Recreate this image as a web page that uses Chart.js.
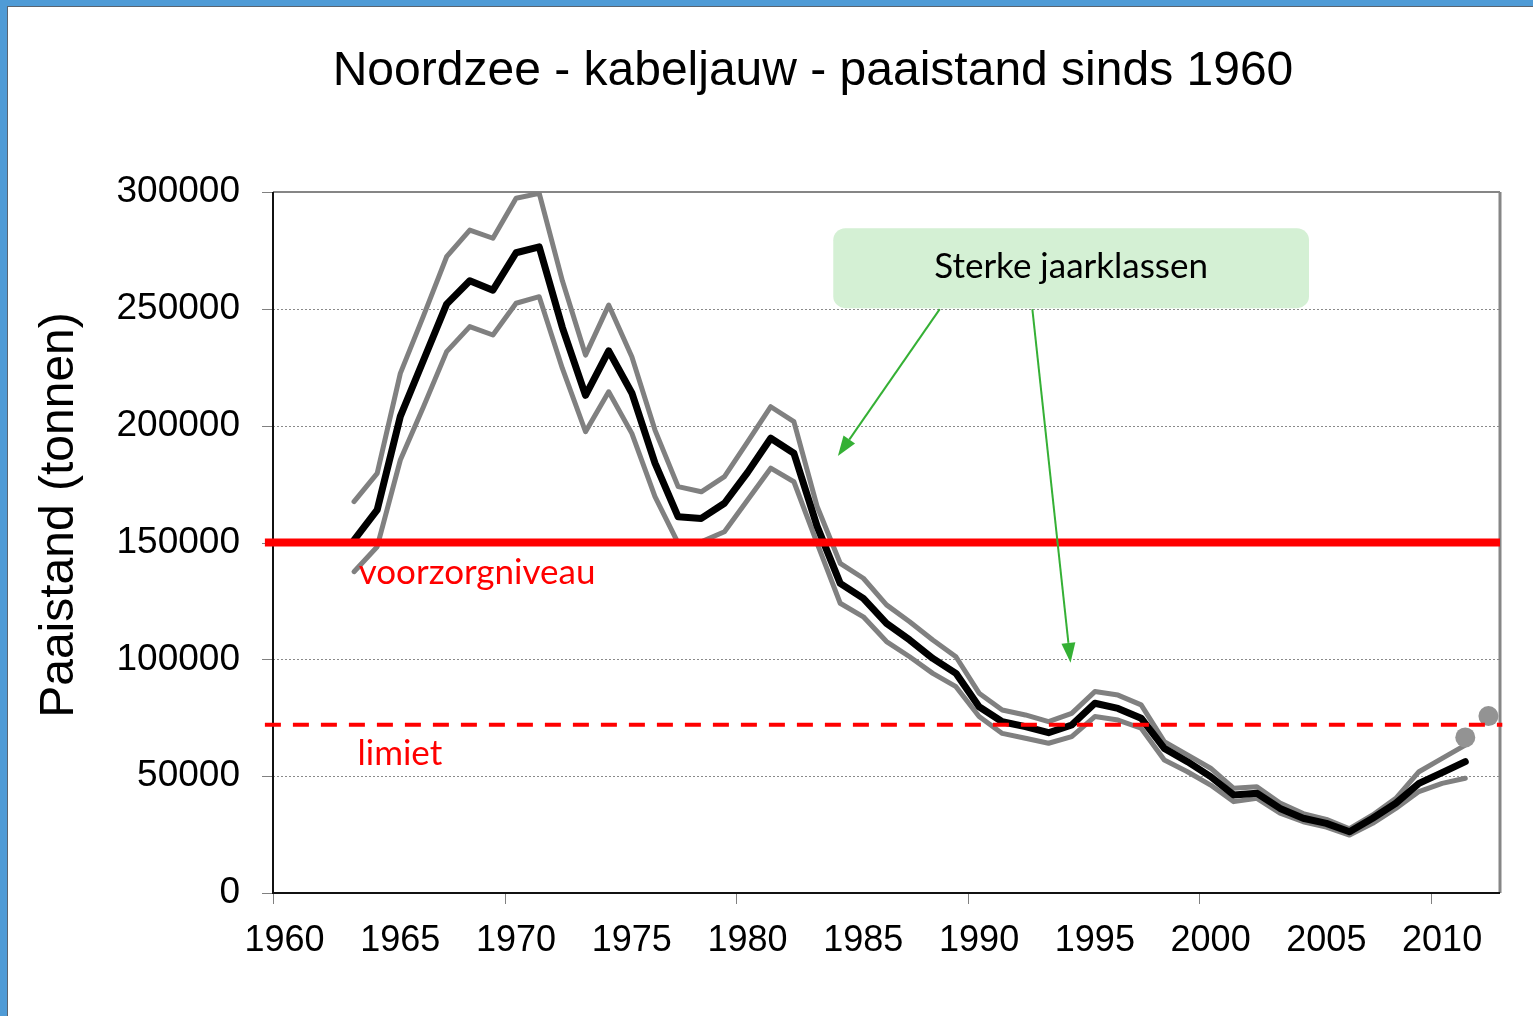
<!DOCTYPE html>
<html>
<head>
<meta charset="utf-8">
<title>Noordzee kabeljauw paaistand</title>
<script src="https://cdn.jsdelivr.net/npm/chart.js@4.4.0/dist/chart.umd.min.js"></script>
<style>
  html, body { margin: 0; padding: 0; background: #fff; }
  canvas { display: block; }
</style>
</head>
<body>
<canvas id="chart" width="1533" height="1016"></canvas>
<script>
// Paaistand kabeljauw Noordzee (tonnen), 1963-2011
const years = [1963, 1964, 1965, 1966, 1967, 1968, 1969, 1970, 1971, 1972,
               1973, 1974, 1975, 1976, 1977, 1978, 1979, 1980, 1981, 1982,
               1983, 1984, 1985, 1986, 1987, 1988, 1989, 1990, 1991, 1992,
               1993, 1994, 1995, 1996, 1997, 1998, 1999, 2000, 2001, 2002,
               2003, 2004, 2005, 2006, 2007, 2008, 2009, 2010, 2011];
const ssb = [151000, 164000, 204000, 228000, 252000, 262000, 258000, 274000, 276500, 242000,
             213000, 232000, 214000, 184000, 161000, 160300, 166800, 180000, 194600, 188200,
             157000, 132500, 126100, 115400, 108300, 100400, 94000, 79700, 73300, 71200,
             68600, 71900, 81200, 79000, 74800, 61900, 56200, 49800, 41900, 42700,
             36200, 32000, 29800, 26200, 32000, 38400, 46900, 51500, 56200];
const ssbHigh = [167500, 179600, 222400, 247000, 272300, 283700, 280200, 297300, 299400, 262000,
                 230200, 251600, 229500, 198100, 173900, 171700, 178200, 193100, 208100, 201700,
                 165500, 141100, 134700, 123300, 116100, 108300, 101100, 85500, 78300, 76200,
                 73300, 76900, 86200, 84700, 80500, 64800, 59100, 53400, 44800, 45500,
                 38500, 34000, 31500, 27500, 33400, 40500, 51900, 57600, 63300];
const ssbLow = [137500, 148200, 185300, 208100, 231700, 242400, 238800, 252400, 255200, 224500,
                197400, 214500, 196700, 169600, 149700, 150300, 154600, 168200, 181800, 176000,
                149700, 124000, 118200, 107600, 101100, 94000, 88300, 75500, 68300, 66200,
                64100, 66900, 75500, 74000, 70500, 56900, 51900, 46200, 39100, 40500,
                34200, 30500, 28200, 24800, 29800, 36200, 43400, 46900, 49100];

// losse punten aan het eind
const prognoseYears = [2011, 2012];
const prognose = [66600, 75700];

// referentieniveaus
const bpa = 150000;   // voorzorgniveau
const blim = 72000;   // limiet

const xTicks = [1960, 1965, 1970, 1975, 1980, 1985, 1990, 1995, 2000, 2005, 2010];
const yTicks = [0, 50000, 100000, 150000, 200000, 250000, 300000];

const toXY = (xs, ys) => xs.map((x, i) => ({ x: x, y: ys[i] }));
const LINE_FONT = '"Liberation Sans", Arial, sans-serif';
const NOTE_FONT = 'Lato, "Open Sans", sans-serif';

// achtergrond, raster, assen en teksten
const decor = {
  id: 'decor',
  beforeDraw(chart) {
    const ctx = chart.ctx;
    ctx.save();
    ctx.fillStyle = '#fff';
    ctx.fillRect(0, 0, chart.width, chart.height);
    ctx.fillStyle = '#4f9bd6';
    ctx.fillRect(0, 0, chart.width, 6);
    ctx.fillRect(0, 0, 8, chart.height);
    ctx.fillStyle = '#5a6470';
    ctx.fillRect(8, 6, chart.width - 8, 1);
    ctx.fillRect(7, 6, 1, chart.height);
    ctx.restore();
  },
  beforeDatasetsDraw(chart) {
    const { ctx, chartArea: a, scales: { x, y } } = chart;
    ctx.save();
    // stippellijnen
    ctx.strokeStyle = '#8a8a8a';
    ctx.lineWidth = 1;
    ctx.setLineDash([2, 2]);
    yTicks.slice(1, -1).forEach(v => {
      const py = Math.round(y.getPixelForValue(v)) + 0.5;
      ctx.beginPath();
      ctx.moveTo(a.left, py);
      ctx.lineTo(a.right, py);
      ctx.stroke();
    });
    ctx.setLineDash([]);
    // kader
    ctx.strokeStyle = '#868686';
    ctx.lineWidth = 2;
    ctx.beginPath();
    ctx.moveTo(a.left, a.top);
    ctx.lineTo(a.right, a.top);
    ctx.stroke();
    ctx.lineWidth = 3;
    ctx.beginPath();
    ctx.moveTo(a.right, a.top);
    ctx.lineTo(a.right, a.bottom);
    ctx.stroke();
    // streepjes
    ctx.lineWidth = 1;
    ctx.strokeStyle = '#808080';
    yTicks.forEach(v => {
      const py = Math.round(y.getPixelForValue(v)) + 0.5;
      ctx.beginPath();
      ctx.moveTo(a.left - 11, py);
      ctx.lineTo(a.left, py);
      ctx.stroke();
    });
    for (let yr = 1959.5; yr < 2012; yr += 10) {
      const px = Math.round(x.getPixelForValue(yr)) + 0.5;
      ctx.beginPath();
      ctx.moveTo(px, a.bottom);
      ctx.lineTo(px, a.bottom + 11);
      ctx.stroke();
    }
    // assen
    ctx.strokeStyle = '#111';
    ctx.lineWidth = 2;
    ctx.beginPath();
    ctx.moveTo(a.left, a.top);
    ctx.lineTo(a.left, a.bottom);
    ctx.lineTo(a.right, a.bottom);
    ctx.stroke();
    ctx.restore();
  },
  afterDraw(chart) {
    const { ctx, scales: { x, y } } = chart;
    ctx.save();
    ctx.fillStyle = '#000';
    ctx.textAlign = 'center';
    ctx.textBaseline = 'middle';
    ctx.font = '48px ' + LINE_FONT;
    ctx.fillText('Noordzee - kabeljauw - paaistand sinds 1960', 813, 72);

    ctx.save();
    ctx.translate(60, 515);
    ctx.rotate(-Math.PI / 2);
    ctx.font = '48px ' + LINE_FONT;
    ctx.fillText('Paaistand (tonnen)', 0, 0);
    ctx.restore();

    // labels bij de referentielijnen
    ctx.fillStyle = '#ff0000';
    ctx.textAlign = 'left';
    ctx.font = '35px ' + NOTE_FONT;
    ctx.fillText('voorzorgniveau', x.getPixelForValue(1963.2), y.getPixelForValue(bpa) + 30);
    ctx.fillText('limiet', x.getPixelForValue(1963.15), y.getPixelForValue(blim) + 29);

    // tekstvak met pijlen
    const bx0 = x.getPixelForValue(1983.7), bx1 = x.getPixelForValue(2004.25);
    const by0 = y.getPixelForValue(284500), by1 = y.getPixelForValue(250300);
    ctx.fillStyle = '#d4f0d4';
    ctx.beginPath();
    ctx.roundRect(bx0, by0, bx1 - bx0, by1 - by0, 12);
    ctx.fill();
    ctx.fillStyle = '#000';
    ctx.textAlign = 'center';
    ctx.font = '35px ' + NOTE_FONT;
    ctx.fillText('Sterke jaarklassen', (bx0 + bx1) / 2, (by0 + by1) / 2 - 1);

    const arrow = (x0, y0, x1, y1) => {
      const ang = Math.atan2(y1 - y0, x1 - x0);
      const len = 20, half = 7;
      const bxp = x1 - len * Math.cos(ang), byp = y1 - len * Math.sin(ang);
      ctx.strokeStyle = '#35b035';
      ctx.fillStyle = '#35b035';
      ctx.lineWidth = 2;
      ctx.beginPath();
      ctx.moveTo(x0, y0);
      ctx.lineTo(bxp, byp);
      ctx.stroke();
      ctx.beginPath();
      ctx.moveTo(x1, y1);
      ctx.lineTo(bxp + half * Math.sin(ang), byp - half * Math.cos(ang));
      ctx.lineTo(bxp - half * Math.sin(ang), byp + half * Math.cos(ang));
      ctx.closePath();
      ctx.fill();
    };
    arrow(x.getPixelForValue(1988.3), by1 + 1, x.getPixelForValue(1983.9), y.getPixelForValue(187000));
    arrow(x.getPixelForValue(1992.3), by1 + 1, x.getPixelForValue(1993.95), y.getPixelForValue(98500));
    ctx.restore();
  }
};

const lineStyle = {
  pointRadius: 0,
  tension: 0,
  fill: false,
  borderCapStyle: 'round',
  borderJoinStyle: 'round'
};

new Chart(document.getElementById('chart').getContext('2d'), {
  type: 'line',
  data: {
    datasets: [
      { ...lineStyle, label: 'bovengrens', data: toXY(years, ssbHigh), borderColor: '#808080', borderWidth: 5, order: 4 },
      { ...lineStyle, label: 'ondergrens', data: toXY(years, ssbLow), borderColor: '#808080', borderWidth: 5, order: 4 },
      { ...lineStyle, label: 'paaistand', data: toXY(years, ssb), borderColor: '#000', borderWidth: 7, order: 3 },
      { label: 'prognose', data: toXY(prognoseYears, prognose), showLine: false,
        pointRadius: 10, pointBackgroundColor: '#939393', pointBorderWidth: 0, order: 2 },
      { ...lineStyle, label: 'voorzorgniveau', data: [{ x: 1959.15, y: bpa }, { x: 2012.5, y: bpa }],
        borderColor: '#ff0000', borderWidth: 8, borderCapStyle: 'butt', clip: false, order: 1 },
      { ...lineStyle, label: 'limiet', data: [{ x: 1959.15, y: blim }, { x: 2012.6, y: blim }],
        borderColor: '#ff0000', borderWidth: 4, borderDash: [16, 12], borderCapStyle: 'butt', clip: false, order: 1 }
    ]
  },
  options: {
    responsive: false,
    animation: false,
    layout: { padding: { top: 192, right: 33, left: 0, bottom: 0 } },
    plugins: {
      legend: { display: false },
      tooltip: { enabled: false },
      title: { display: false }
    },
    scales: {
      x: {
        type: 'linear',
        min: 1959.5,
        max: 2012.5,
        afterBuildTicks: s => { s.ticks = xTicks.map(v => ({ value: v })); },
        afterFit: s => { s.height = 123; },
        grid: { display: false, drawTicks: false },
        border: { display: false },
        ticks: {
          autoSkip: false, maxRotation: 0, padding: 26, color: '#000',
          font: { family: LINE_FONT, size: 36 },
          callback: v => String(v)
        }
      },
      y: {
        min: 0,
        max: 300000,
        afterBuildTicks: s => { s.ticks = yTicks.map(v => ({ value: v })); },
        afterFit: s => { s.width = 273; },
        grid: { display: false, drawTicks: false },
        border: { display: false },
        ticks: {
          padding: 33, color: '#000',
          font: { family: LINE_FONT, size: 37 },
          callback: v => String(v)
        }
      }
    }
  },
  plugins: [decor]
});
</script>
</body>
</html>
